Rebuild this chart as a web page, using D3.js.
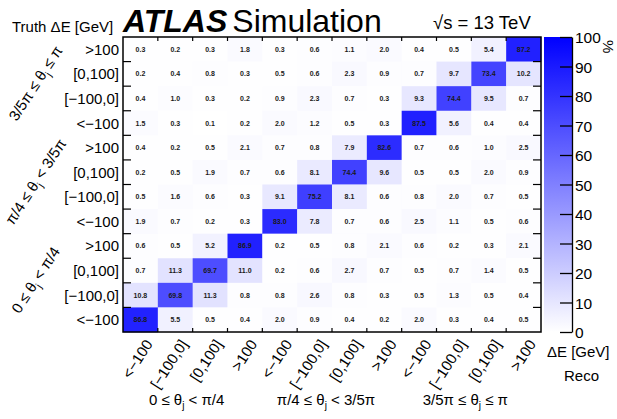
<!DOCTYPE html>
<html>
<head>
<meta charset="utf-8">
<script src="https://cdn.jsdelivr.net/npm/d3@7"></script>
<style>
  body { margin: 0; background: #fff; }
  svg { font-family: "Liberation Sans", Arial, Helvetica, sans-serif; }
  .cell-label { font-size: 7px; font-weight: bold; fill: #1a1a1a; }
  .tick-label { font-size: 15px; fill: #000; }
  .group-label { font-size: 15px; fill: #000; }
</style>
</head>
<body>
<svg id="chart" width="617" height="419"></svg>
<script>
// reco / truth energy-difference bins inside each theta_j region
const energyBins = ["<\u2212100", "[\u2212100,0]", "[0,100]", ">100"];
// theta_j regions (text before subscript, after subscript)
const thetaBins = [
  ["0 \u2264 \u03b8", " < \u03c0/4"],
  ["\u03c0/4 \u2264 \u03b8", " < 3/5\u03c0"],
  ["3/5\u03c0 \u2264 \u03b8", " \u2264 \u03c0"]
];
// migration matrix in %, rows = truth bins from top (3/5pi >100) to bottom (0 <-100),
// columns = reco bins left to right
const migration = [
  [0.3, 0.2, 0.3, 1.8, 0.3, 0.6, 1.1, 2.0, 0.4, 0.5, 5.4, 87.2],
  [0.2, 0.4, 0.8, 0.3, 0.5, 0.6, 2.3, 0.9, 0.7, 9.7, 73.4, 10.2],
  [0.4, 1.0, 0.3, 0.2, 0.9, 2.3, 0.7, 0.3, 9.3, 74.4, 9.5, 0.7],
  [1.5, 0.3, 0.1, 0.2, 2.0, 1.2, 0.5, 0.3, 87.5, 5.6, 0.4, 0.4],
  [0.4, 0.2, 0.5, 2.1, 0.7, 0.8, 7.9, 82.6, 0.7, 0.6, 1.0, 2.5],
  [0.2, 0.5, 1.9, 0.7, 0.6, 8.1, 74.4, 9.6, 0.5, 0.5, 2.0, 0.9],
  [0.5, 1.6, 0.6, 0.3, 9.1, 75.2, 8.1, 0.6, 0.8, 2.0, 0.7, 0.5],
  [1.9, 0.7, 0.2, 0.3, 83.0, 7.8, 0.7, 0.6, 2.5, 1.1, 0.5, 0.6],
  [0.6, 0.5, 5.2, 86.9, 0.2, 0.5, 0.8, 2.1, 0.6, 0.2, 0.3, 2.1],
  [0.7, 11.3, 69.7, 11.0, 0.2, 0.6, 2.7, 0.7, 0.5, 0.7, 1.4, 0.5],
  [10.8, 69.8, 11.3, 0.8, 0.8, 2.6, 0.8, 0.3, 0.5, 1.3, 0.5, 0.4],
  [86.8, 5.5, 0.5, 0.4, 2.0, 0.9, 0.4, 0.2, 2.0, 0.3, 0.4, 0.5]
];
const colorTicks = [0, 10, 20, 30, 40, 50, 60, 70, 80, 90, 100];

const svg = d3.select("#chart");
const mLeft = 123, mRight = 541, mTop = 37, mBottom = 332;

// combined bins: theta region x energy bin
const bins = thetaBins.flatMap((t, i) => energyBins.map((e, j) => i * 4 + j));
const xScale = d3.scaleBand().domain(bins).range([mLeft, mRight]);
const yScale = d3.scaleBand().domain(bins).range([mBottom, mTop]);
const color = d3.scaleLinear().domain([0, 100]).range(["#ffffff", "#0000ff"]);

// flatten matrix: truth index counts from bottom
const cells = migration.flatMap((row, r) =>
  row.map((v, c) => ({ reco: c, truth: bins.length - 1 - r, v })));

const g = svg.append("g");
g.selectAll("rect.cell")
  .data(cells)
  .join("rect")
  .attr("class", "cell")
  .attr("x", d => xScale(d.reco))
  .attr("y", d => yScale(d.truth))
  .attr("width", xScale.bandwidth() + 0.3)
  .attr("height", yScale.bandwidth() + 0.3)
  .attr("fill", d => color(d.v));

g.selectAll("text.cell-label")
  .data(cells)
  .join("text")
  .attr("class", "cell-label")
  .attr("x", d => xScale(d.reco) + xScale.bandwidth() / 2)
  .attr("y", d => yScale(d.truth) + yScale.bandwidth() / 2 + 2.5)
  .attr("text-anchor", "middle")
  .text(d => d.v.toFixed(1));

// frame with root-style ticks at bin edges
const edges = bins.slice(1);
const axes = svg.append("g").attr("stroke", "#000").attr("stroke-width", 1.2);
axes.selectAll("line.tx")
  .data(edges).join("line")
  .attr("x1", d => xScale(d)).attr("x2", d => xScale(d))
  .attr("y1", mTop).attr("y2", mTop + 4);
axes.selectAll("line.bx")
  .data(edges).join("line")
  .attr("x1", d => xScale(d)).attr("x2", d => xScale(d))
  .attr("y1", mBottom).attr("y2", mBottom - 4);
axes.selectAll("line.ly")
  .data(edges).join("line")
  .attr("x1", mLeft).attr("x2", mLeft + 8)
  .attr("y1", d => yScale(d) + yScale.bandwidth()).attr("y2", d => yScale(d) + yScale.bandwidth());
axes.selectAll("line.ry")
  .data(edges).join("line")
  .attr("x1", mRight).attr("x2", mRight - 8)
  .attr("y1", d => yScale(d) + yScale.bandwidth()).attr("y2", d => yScale(d) + yScale.bandwidth());
svg.append("rect")
  .attr("x", mLeft).attr("y", mTop)
  .attr("width", mRight - mLeft).attr("height", mBottom - mTop)
  .attr("fill", "none").attr("stroke", "#000").attr("stroke-width", 1.5);

// y tick labels
svg.selectAll("text.ylab")
  .data(bins).join("text")
  .attr("class", "tick-label")
  .attr("x", mLeft - 4)
  .attr("y", d => yScale(d) + yScale.bandwidth() / 2 + 5.5)
  .attr("text-anchor", "end")
  .text(d => energyBins[d % 4]);

// x tick labels, rotated
svg.selectAll("text.xlab")
  .data(bins).join("text")
  .attr("class", "tick-label")
  .attr("text-anchor", "end")
  .attr("transform", d => `translate(${xScale(d) + xScale.bandwidth() / 2 + 13},${mBottom + 12}) rotate(-57)`)
  .text(d => energyBins[d % 4]);

function thetaText(sel, t) {
  sel.append("tspan").text(t[0]);
  sel.append("tspan").attr("font-size", "10px").attr("dy", 4).text("j");
  sel.append("tspan").attr("dy", -4).text(t[1]);
}

// x group labels
thetaBins.forEach((t, i) => {
  const cx = (xScale(i * 4) + xScale(i * 4 + 3) + xScale.bandwidth()) / 2 - 6;
  svg.append("text").attr("class", "group-label")
    .attr("x", cx).attr("y", 405).attr("text-anchor", "middle")
    .call(thetaText, t);
});

// y group labels, rotated
thetaBins.forEach((t, i) => {
  const cy = (yScale(i * 4) + yScale.bandwidth() + yScale(i * 4 + 3)) / 2;
  svg.append("text").attr("class", "group-label")
    .attr("text-anchor", "middle")
    .attr("font-size", "16px")
    .attr("transform", `translate(${40},${cy}) rotate(-57)`)
    .call(thetaText, t);
});

// axis titles
svg.append("text").attr("x", 12).attr("y", 32)
  .attr("font-size", "15px").text("Truth \u0394E [GeV]");
svg.append("text").attr("x", 547).attr("y", 357)
  .attr("font-size", "15px").text("\u0394E [GeV]");
svg.append("text").attr("x", 564).attr("y", 381)
  .attr("font-size", "15px").text("Reco");

// header
const head = svg.append("text").attr("x", 123).attr("y", 32).attr("font-size", "32px");
head.append("tspan").attr("font-weight", "bold").attr("font-style", "italic").text("ATLAS");
head.append("tspan").attr("dx", 5).text("Simulation");
svg.append("text").attr("x", 433).attr("y", 29).attr("font-size", "18.5px")
  .text("\u221as = 13 TeV");

// colour bar
const cbX = 544, cbW = 28;
const cScale = d3.scaleLinear().domain([0, 100]).range([mBottom, mTop]);
const grad = svg.append("defs").append("linearGradient")
  .attr("id", "cbgrad").attr("x1", 0).attr("x2", 0).attr("y1", 1).attr("y2", 0);
grad.selectAll("stop").data(colorTicks).join("stop")
  .attr("offset", d => d / 100)
  .attr("stop-color", d => color(d));
svg.append("rect")
  .attr("x", cbX).attr("y", mTop)
  .attr("width", cbW).attr("height", mBottom - mTop)
  .attr("fill", "url(#cbgrad)");
const cAxis = d3.axisRight(cScale).tickValues(colorTicks).tickSizeInner(-12).tickSizeOuter(0).tickPadding(3);
const cg = svg.append("g").attr("transform", `translate(${cbX + cbW},0)`).call(cAxis);
cg.select(".domain").attr("stroke-width", 1.3);
cg.selectAll(".tick line").attr("stroke-width", 1.3);
cg.selectAll(".tick text").attr("font-size", "15.5px").attr("font-family", "Liberation Sans, Arial, sans-serif")
  .attr("dy", "0.36em");
svg.append("text")
  .attr("transform", `translate(${603},${40}) rotate(90)`)
  .attr("font-size", "15px").text("%");
</script>
</body>
</html>
